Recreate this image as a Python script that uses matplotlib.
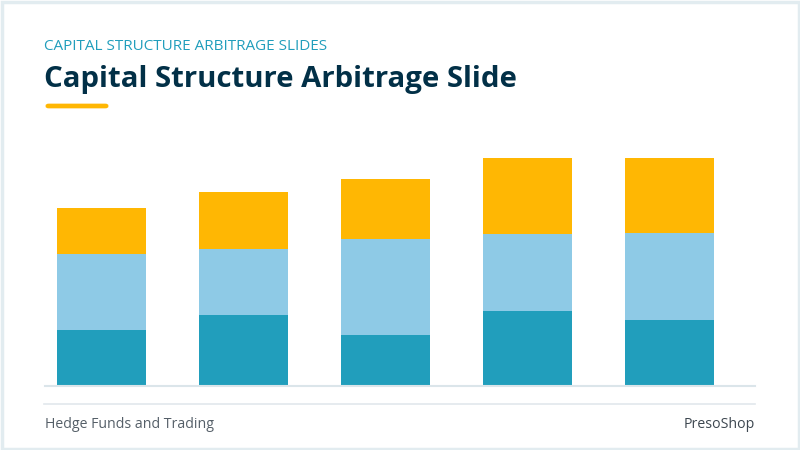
import matplotlib
matplotlib.use("Agg")
import matplotlib.pyplot as plt
from matplotlib.patches import FancyBboxPatch, Rectangle
from matplotlib.lines import Line2D

# ---- data ----
categories = ["A", "B", "C", "D", "E"]
series_bottom = [24.5, 31, 22.5, 33, 29]
series_middle = [33.5, 29, 42, 33.5, 38]
series_top = [20, 25, 26.5, 33.5, 33]

colors = ["#219EBC", "#8ECAE6", "#FFB703"]

W, H = 800, 450
fig = plt.figure(figsize=(8, 4.5), dpi=100)
fig.patch.set_facecolor("white")

def fx(px):
    return px / W

def fy(py):
    return 1 - py / H

# frame border
fig.patches.append(Rectangle((fx(1.5), fy(448.5)), fx(797), 1 - fy(447), transform=fig.transFigure,
                             fill=False, edgecolor="#e2ecf0", linewidth=2.5, zorder=0))

# axes
ax = fig.add_axes([fx(45), fy(385.7), fx(710), fy(158.3) - fy(385.7)])
x = list(range(len(categories)))
bw = 0.627
b2 = [a + b for a, b in zip(series_bottom, series_middle)]
ax.bar(x, series_bottom, width=bw, color=colors[0], linewidth=0)
ax.bar(x, series_middle, width=bw, bottom=series_bottom, color=colors[1], linewidth=0)
ax.bar(x, series_top, width=bw, bottom=b2, color=colors[2], linewidth=0)
ax.set_xlim(-0.396, 4.604)
ax.set_ylim(0, 100)
ax.axis("off")

# baseline and footer line
fig.add_artist(Line2D([fx(45), fx(755)], [fy(386), fy(386)], color="#dbe5ea", linewidth=1.5))
fig.add_artist(Line2D([fx(44), fx(755)], [fy(404), fy(404)], color="#e1e8ec", linewidth=1.2))

# texts
fig.text(fx(44), fy(46), "CAPITAL STRUCTURE ARBITRAGE SLIDES", color="#219EBC",
         fontsize=11, family="Open Sans", va="center", ha="left")
fig.text(fx(44), fy(80), "Capital Structure Arbitrage Slide", color="#023047",
         fontsize=21.2, family="Open Sans", fontweight="bold", va="center", ha="left")
fig.patches.append(FancyBboxPatch((fx(48), fy(107)), fx(58), fy(105) - fy(107),
                                  boxstyle="round,pad=0.003,rounding_size=0.004",
                                  transform=fig.transFigure, facecolor="#FFB703",
                                  edgecolor="none"))
fig.text(fx(45), fy(425), "Hedge Funds and Trading", color="#555f68",
         fontsize=10.2, family="Open Sans", va="center", ha="left")
fig.text(fx(755), fy(425), "PresoShop", color="#3d4750",
         fontsize=10.2, family="Open Sans", va="center", ha="right")

fig.savefig("out.png", dpi=100, facecolor="white")
